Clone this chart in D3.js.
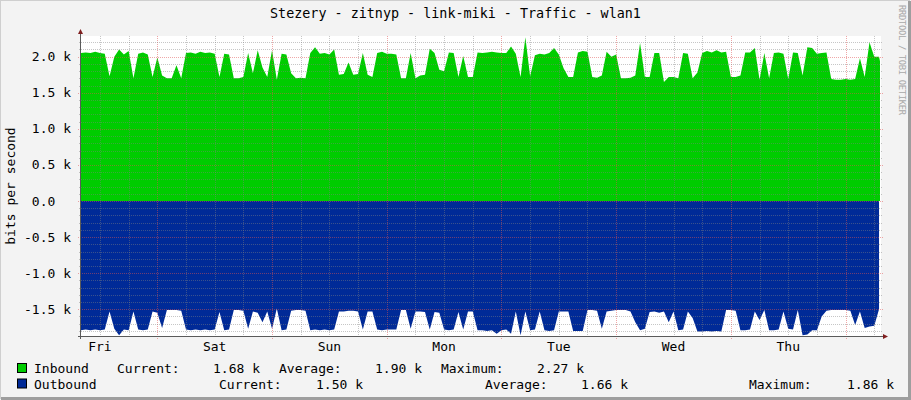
<!DOCTYPE html>
<html>
<head>
<meta charset="utf-8">
<script src="https://cdn.jsdelivr.net/npm/d3@7"></script>
<style>
  html, body { margin: 0; padding: 0; background: #f3f3f3; }
  svg { display: block; font-family: "DejaVu Sans Mono", monospace; }
</style>
</head>
<body>
<svg id="chart" width="911" height="400"></svg>
<script>
// hours counted from Friday 00:00, one sample per hour (h = 8 .. 175)
const firstHour = 8;
const inbound = [
  2.05, 2.06, 2.05, 2.07, 2.05, 2.04, 1.73, 2.00, 2.10, 2.03, 2.08, 1.70, 2.04, 2.06, 2.03, 1.72,
  1.99, 1.74, 1.70, 1.70, 1.88, 1.70, 2.05, 2.06, 2.04, 2.07, 2.05, 2.06, 2.04, 1.72, 2.04, 2.03,
  1.70, 1.70, 1.72, 2.05, 1.77, 2.09, 1.85, 1.72, 2.09, 1.68, 2.04, 2.03, 1.77, 1.70, 1.71, 1.70,
  2.05, 2.13, 2.04, 2.05, 2.03, 2.10, 1.75, 1.76, 1.92,
  1.75, 1.76, 2.05, 1.75, 1.72, 2.05, 2.07, 2.04, 2.04, 2.03, 1.70, 1.70, 2.05, 1.70, 1.74, 1.75,
  2.11, 2.05, 1.82, 1.80, 2.06, 2.05, 1.72, 2.01, 1.72, 1.72, 2.06, 2.05, 2.06, 2.07, 2.06, 2.05,
  2.05, 2.14, 2.04, 1.72, 2.27, 1.73, 2.02, 2.04, 2.03, 2.05, 2.12, 2.03, 1.84, 1.72, 1.72, 2.06,
  2.08, 2.07, 1.72, 1.71, 1.74, 2.07, 2.00, 2.03,
  1.70, 1.70, 1.71, 1.74, 2.19, 1.72, 1.72, 2.05, 2.05, 1.65, 1.72, 1.72, 1.70, 2.05, 2.04, 1.70,
  1.78, 2.05, 2.08, 2.06, 2.09, 2.06, 2.07, 1.72, 1.72, 1.74, 2.06, 2.06, 2.12, 1.68, 2.05, 1.70,
  2.05, 2.06, 2.04, 1.69, 2.06, 2.05, 1.74, 2.13, 2.12, 2.04, 2.05, 2.06, 1.69, 1.68, 1.68, 1.69,
  1.68, 1.69, 1.98, 1.72, 2.20, 2.00, 2.00, 1.68
];
const outbound = [
  1.79, 1.78, 1.79, 1.78, 1.79, 1.78, 1.53, 1.77, 1.86, 1.78, 1.79, 1.53, 1.78, 1.79, 1.78, 1.53,
  1.55, 1.76, 1.51, 1.51, 1.51, 1.52, 1.78, 1.79, 1.78, 1.79, 1.78, 1.79, 1.78, 1.54, 1.79, 1.78,
  1.51, 1.51, 1.52, 1.77, 1.53, 1.55, 1.68, 1.53, 1.77, 1.49, 1.79, 1.78, 1.52, 1.51, 1.51, 1.52,
  1.79, 1.78, 1.79, 1.78, 1.79, 1.78, 1.53, 1.53, 1.52,
  1.52, 1.53, 1.78, 1.53, 1.53, 1.78, 1.79, 1.78, 1.78, 1.78, 1.51, 1.51, 1.77, 1.53, 1.53, 1.54,
  1.78, 1.54, 1.55, 1.78, 1.79, 1.78, 1.54, 1.78, 1.53, 1.53, 1.79, 1.79, 1.80, 1.79, 1.84, 1.79,
  1.78, 1.84, 1.53, 1.86, 1.53, 1.79, 1.78, 1.53, 1.79, 1.80, 1.79, 1.53, 1.53, 1.53, 1.80, 1.80,
  1.80, 1.51, 1.51, 1.52, 1.77, 1.53, 1.52,
  1.51, 1.51, 1.51, 1.53, 1.68, 1.79, 1.77, 1.54, 1.53, 1.55, 1.53, 1.68, 1.53, 1.79, 1.78, 1.53,
  1.62, 1.81, 1.81, 1.80, 1.81, 1.80, 1.81, 1.51, 1.51, 1.52, 1.79, 1.79, 1.78, 1.53, 1.65, 1.51,
  1.79, 1.79, 1.78, 1.53, 1.77, 1.78, 1.51, 1.86, 1.85, 1.79, 1.79, 1.60, 1.52, 1.51, 1.51, 1.51,
  1.51, 1.52, 1.72, 1.53, 1.76, 1.74, 1.73, 1.50
];

const dayLabels = ["Fri", "Sat", "Sun", "Mon", "Tue", "Wed", "Thu"];
const yMajorTicks = [-1.5, -1.0, -0.5, 0.0, 0.5, 1.0, 1.5, 2.0];
const yTickLabels = ["-1.5 k", "-1.0 k", "-0.5 k", "0.0  ", "0.5 k", "1.0 k", "1.5 k", "2.0 k"];
const yMinorTicks = d3.range(-18, 23).map(d => d / 10);
const titleText = "Stezery - zitnyp - link-miki - Traffic - wlan1";

const legendRows = [
  { name: "Inbound", color: "#00cc00",
    items: [["Current:", 117], ["1.68 k", 213], ["Average:", 279], ["1.90 k", 375], ["Maximum:", 441], ["2.27 k", 537]] },
  { name: "Outbound", color: "#002a97",
    items: [["Current:", 219], ["1.50 k", 316], ["Average:", 485], ["1.66 k", 581], ["Maximum:", 749], ["1.86 k", 847]] }
];

const svg = d3.select("#chart");
const W = 911, H = 400;
const plot = { left: 81, right: 880, top: 36, bottom: 336 };

// background + 3d frame
svg.append("rect").attr("width", W).attr("height", H).attr("fill", "#f3f3f3");
svg.append("path").attr("d", `M0,${H - 1} V0 H${W - 1}`).attr("stroke", "#cfcfcf").attr("stroke-width", 2).attr("fill", "none");
svg.append("path").attr("d", `M1,${H - 1.5} H${W - 1.5} V1`).attr("stroke", "#9e9e9e").attr("stroke-width", 3).attr("fill", "none");

const x = d3.scaleLinear().domain([8.03, 175.2]).range([plot.left, plot.right]);
const y = d3.scaleLinear().domain([-1.871, 2.287]).range([plot.bottom, plot.top]);

svg.append("rect")
  .attr("x", plot.left).attr("y", plot.top)
  .attr("width", plot.right - plot.left + 1).attr("height", plot.bottom - plot.top)
  .attr("fill", "#ffffff");

svg.append("clipPath").attr("id", "clip").append("rect")
  .attr("x", plot.left).attr("y", plot.top)
  .attr("width", plot.right - plot.left).attr("height", plot.bottom - plot.top);

const hours = inbound.map((d, i) => firstHour + i);

const areaIn = d3.area()
  .x((d, i) => x(hours[i]))
  .y0(y(0))
  .y1(d => y(d));

const areaOut = d3.area()
  .x((d, i) => x(hours[i]))
  .y0(y(0))
  .y1(d => y(-d));

const g = svg.append("g").attr("clip-path", "url(#clip)");
g.append("path").datum(inbound).attr("fill", "#00cc00").attr("d", areaIn);
g.append("path").datum(outbound).attr("fill", "#002a97").attr("d", areaOut);

// --- grid (drawn over the data like rrdtool) ---
const minorColor = "rgba(128,128,128,0.45)";
const majorColor = "rgba(224,80,80,0.5)";
const grid = svg.append("g").attr("shape-rendering", "crispEdges");

const vMinor = d3.range(12, 176, 6).filter(h => h % 24 !== 0);
const vMajor = d3.range(24, 176, 24);

grid.selectAll(".vminor").data(vMinor).enter().append("line")
  .attr("x1", d => Math.round(x(d)) + 0.5).attr("x2", d => Math.round(x(d)) + 0.5)
  .attr("y1", plot.top).attr("y2", plot.bottom + 2)
  .attr("stroke", minorColor).attr("stroke-dasharray", "1,1");
grid.selectAll(".vmajor").data(vMajor).enter().append("line")
  .attr("x1", d => Math.round(x(d)) + 0.5).attr("x2", d => Math.round(x(d)) + 0.5)
  .attr("y1", plot.top).attr("y2", plot.bottom + 3)
  .attr("stroke", majorColor).attr("stroke-dasharray", "1,1");

const hMinor = yMinorTicks.filter(v => !yMajorTicks.some(m => Math.abs(m - v) < 1e-6));
grid.selectAll(".hminor").data(hMinor).enter().append("line")
  .attr("x1", plot.left - 2).attr("x2", plot.right + 2)
  .attr("y1", d => Math.round(y(d)) + 0.5).attr("y2", d => Math.round(y(d)) + 0.5)
  .attr("stroke", minorColor).attr("stroke-dasharray", "1,1");
grid.selectAll(".hmajor").data(yMajorTicks).enter().append("line")
  .attr("x1", plot.left - 3).attr("x2", plot.right + 3)
  .attr("y1", d => Math.round(y(d)) + 0.5).attr("y2", d => Math.round(y(d)) + 0.5)
  .attr("stroke", majorColor).attr("stroke-dasharray", "1,1");

// --- axes ---
const axisColor = "#5a5a5a";
const arrowColor = "#7f1f1f";
svg.append("line").attr("x1", plot.left - 3).attr("x2", plot.right + 3)
  .attr("y1", plot.bottom + 0.5).attr("y2", plot.bottom + 0.5)
  .attr("stroke", axisColor).attr("shape-rendering", "crispEdges");
svg.append("line").attr("x1", plot.left - 0.5).attr("x2", plot.left - 0.5)
  .attr("y1", plot.top - 3).attr("y2", plot.bottom + 3)
  .attr("stroke", axisColor).attr("shape-rendering", "crispEdges");
svg.append("path")
  .attr("d", `M${plot.right + 3},${plot.bottom - 2} L${plot.right + 8},${plot.bottom + 0.5} L${plot.right + 3},${plot.bottom + 3} Z`)
  .attr("fill", arrowColor);
svg.append("path")
  .attr("d", `M${plot.left - 3},${plot.top - 2} L${plot.left - 0.5},${plot.top - 7} L${plot.left + 2},${plot.top - 2} Z`)
  .attr("fill", arrowColor);

// y labels
svg.selectAll(".ylab").data(yMajorTicks).enter().append("text")
  .attr("x", 71).attr("y", d => y(d) + 4.5)
  .attr("text-anchor", "end")
  .attr("font-size", "13px")
  .attr("fill", "#000")
  .style("white-space", "pre")
  .text((d, i) => yTickLabels[i]);

// x labels at noon of each day
svg.selectAll(".xlab").data(dayLabels).enter().append("text")
  .attr("x", (d, i) => x(i * 24 + 12))
  .attr("y", 351)
  .attr("text-anchor", "middle")
  .attr("font-size", "13px")
  .attr("fill", "#000")
  .text(d => d);

// title
svg.append("text")
  .attr("x", 455.5).attr("y", 18)
  .attr("text-anchor", "middle")
  .attr("font-size", "13.4px")
  .attr("fill", "#000")
  .text(titleText);

// vertical axis label
svg.append("text")
  .attr("transform", `translate(15,${(plot.top + plot.bottom) / 2}) rotate(-90)`)
  .attr("text-anchor", "middle")
  .attr("font-size", "13px")
  .attr("fill", "#000")
  .text("bits per second");

// watermark
svg.append("text")
  .attr("transform", "translate(899,5) rotate(90)")
  .attr("font-size", "8.8px")
  .attr("textLength", 110)
  .attr("fill", "#a8a8a8")
  .text("RRDTOOL / TOBI OETIKER");

// legend
legendRows.forEach((row, r) => {
  const by = 363 + r * 15.5;
  svg.append("rect")
    .attr("x", 17.5).attr("y", by + 0.5)
    .attr("width", 9).attr("height", 9)
    .attr("fill", row.color).attr("stroke", "#000");
  svg.append("text")
    .attr("x", 34).attr("y", by + 10)
    .attr("font-size", "13px").attr("fill", "#000")
    .text(row.name);
  row.items.forEach(([t, px]) => {
    svg.append("text")
      .attr("x", px).attr("y", by + 10)
      .attr("font-size", "13px").attr("fill", "#000")
      .text(t);
  });
});
</script>
</body>
</html>
